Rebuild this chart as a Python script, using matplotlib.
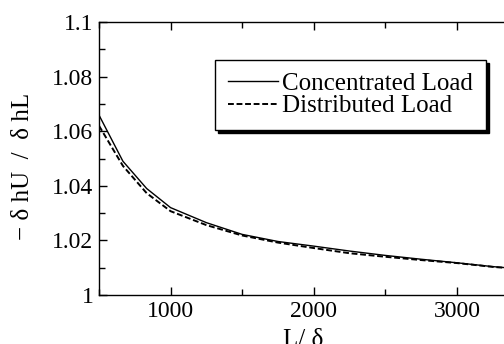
import numpy as np
import matplotlib
matplotlib.use("Agg")
import matplotlib.pyplot as plt
from matplotlib.ticker import MultipleLocator

# L/delta values
ratio = [500, 667, 833, 1000, 1250, 1500, 1750, 2000, 2250, 2500, 2750, 3000, 3250, 3500]
concentrated = [1.0659, 1.0490, 1.0390, 1.0320, 1.0265, 1.0222, 1.0196, 1.0179, 1.0161, 1.0145,
                1.0131, 1.0118, 1.0104, 1.0093]
distributed = [1.0620, 1.0473, 1.0373, 1.0307, 1.0256, 1.0218, 1.0192, 1.0172, 1.0153, 1.0140,
               1.0128, 1.0117, 1.0103, 1.0093]

plt.rcParams["font.family"] = ["Liberation Serif", "DejaVu Serif"]

fig = plt.figure(figsize=(5.04, 3.44), dpi=100)
ax = fig.add_axes([99 / 504, 1 - 295 / 344, 429.5 / 504, 273 / 344])

ax.plot(ratio, concentrated, color="black", lw=1.0, label="Concentrated Load")
ax.plot(ratio, distributed, color="black", lw=1.4, linestyle=(0, (3.0, 1.4)), label="Distributed Load")

ax.set_xlim(500, 3500)
ax.set_ylim(1.0, 1.1)
ax.xaxis.set_major_locator(MultipleLocator(1000))
ax.xaxis.set_minor_locator(MultipleLocator(500))
ax.yaxis.set_minor_locator(MultipleLocator(0.01))
ax.set_yticks([1.0, 1.02, 1.04, 1.06, 1.08, 1.1])
ax.set_yticklabels(["1", "1.02", "1.04", "1.06", "1.08", "1.1"])

ax.tick_params(which="both", direction="in", top=True, right=True, labelsize=17, width=1.0)
ax.tick_params(which="major", length=6, pad=4)
ax.tick_params(which="minor", length=4)
for s in ax.spines.values():
    s.set_linewidth(1.0)

ax.set_xlabel("L/ δ", fontsize=18)
ax.xaxis.set_label_coords(0.475, -0.125, transform=ax.transAxes)
ax.xaxis.label.set_va("top")
ax.set_ylabel("− δ hU  /  δ hL", fontsize=18)
ax.yaxis.set_label_coords(-0.152, 0.47, transform=ax.transAxes)

leg = ax.legend(loc="upper left", bbox_to_anchor=(215 / 504, 1 - 60 / 344),
                bbox_transform=fig.transFigure, fontsize=18, frameon=True,
                fancybox=False, shadow={"color": "black", "alpha": 1.0},
                handlelength=2.0, handletextpad=0.2, labelspacing=0.0,
                borderpad=0.5, borderaxespad=0)
leg.get_frame().set_edgecolor("black")
leg.get_frame().set_linewidth(1.0)

fig.savefig("out.png", dpi=100)
